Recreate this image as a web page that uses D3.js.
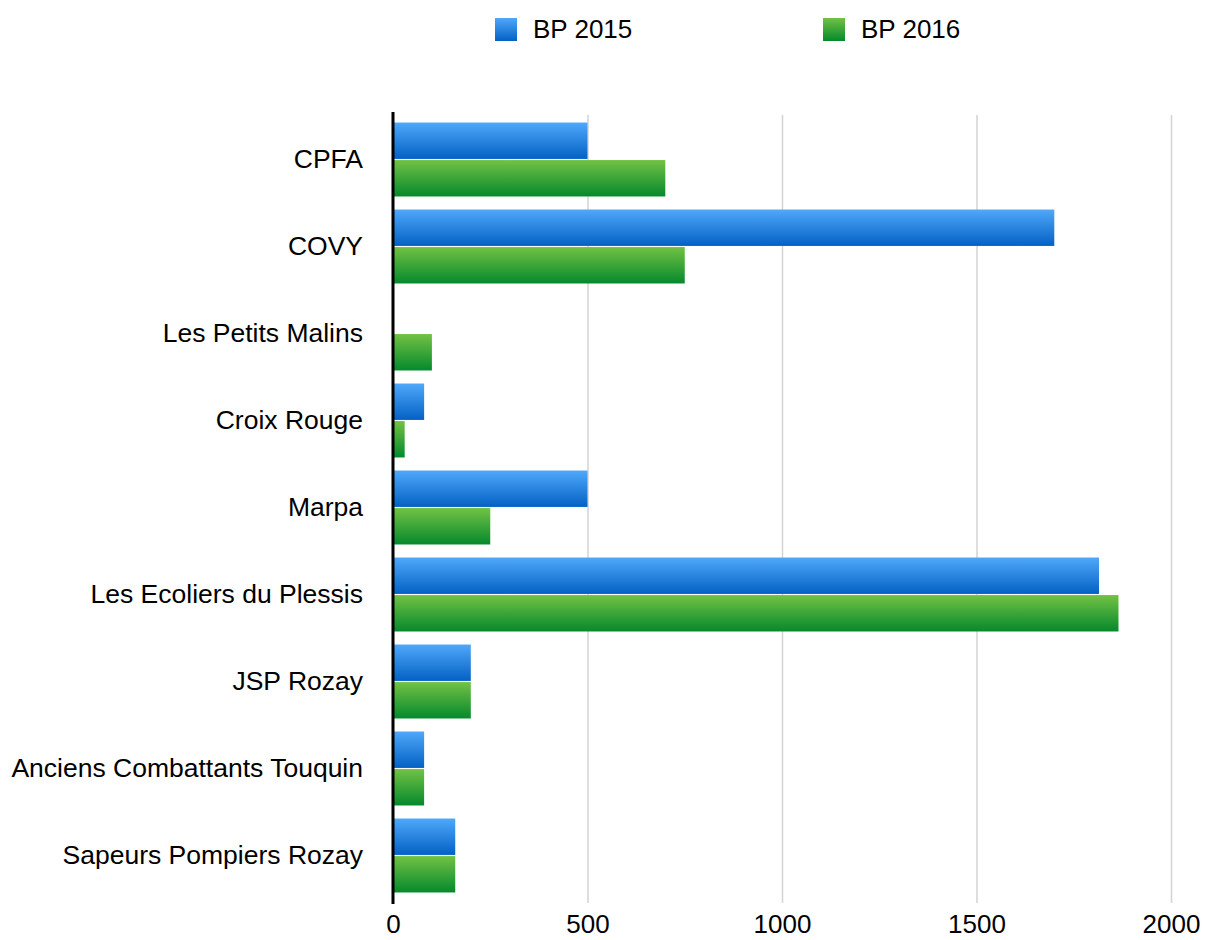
<!DOCTYPE html>
<html>
<head>
<meta charset="utf-8">
<script src="https://cdn.jsdelivr.net/npm/d3@7"></script>
<style>
  body { margin: 0; background: #fff; }
  svg text { font-family: "Liberation Sans", Arial, Helvetica, sans-serif; fill: #000; }
</style>
</head>
<body>
<svg id="chart" width="1205" height="940"></svg>
<script>
var categories = ["CPFA", "COVY", "Les Petits Malins", "Croix Rouge", "Marpa",
    "Les Ecoliers du Plessis", "JSP Rozay", "Anciens Combattants Touquin", "Sapeurs Pompiers Rozay"];
var bp2015 = [500, 1700, 0, 80, 500, 1815, 200, 80, 160];
var bp2016 = [700, 750, 100, 30, 250, 1865, 200, 80, 160];
var seriesNames = ["BP 2015", "BP 2016"];
var xTicks = [0, 500, 1000, 1500, 2000];

var gradColors = {
    "BP 2015": ["#4fa8fa", "#0461c4"],
    "BP 2016": ["#72c244", "#05892c"]
};

var svg = d3.select("#chart");

var defs = svg.append("defs");
seriesNames.forEach(function(name, i) {
    var grad = defs.append("linearGradient")
        .attr("id", "grad" + i)
        .attr("x1", 0).attr("y1", 0).attr("x2", 0).attr("y2", 1);
    grad.append("stop").attr("offset", "0%").attr("stop-color", gradColors[name][0]);
    grad.append("stop").attr("offset", "100%").attr("stop-color", gradColors[name][1]);
});

var x = d3.scaleLinear().domain([0, 2000]).range([393, 1171]);

var y = d3.scaleBand()
    .domain(categories)
    .range([116, 899])
    .paddingInner(0.15)
    .paddingOuter(0.075);

var ySub = d3.scaleBand()
    .domain(seriesNames)
    .range([0, y.bandwidth()])
    .paddingInner(0.03);

var rows = categories.map(function(c, i) {
    return { cat: c, values: [
        { name: "BP 2015", value: bp2015[i] },
        { name: "BP 2016", value: bp2016[i] }
    ]};
});

// gridlines
var grid = svg.append("g")
    .attr("transform", "translate(0,903)")
    .call(d3.axisBottom(x).tickValues(xTicks.slice(1)).tickSize(-(903 - 115)).tickFormat(""));
grid.select(".domain").remove();
grid.selectAll("line").attr("stroke", "#d3d3d3").attr("stroke-width", 1.5);

// bars
var group = svg.selectAll(".cat")
    .data(rows)
    .enter().append("g")
      .attr("class", "cat")
      .attr("transform", function(d) { return "translate(0," + y(d.cat) + ")"; });

group.selectAll("rect")
    .data(function(d) { return d.values.filter(function(v) { return v.value > 0; }); })
    .enter().append("rect")
      .attr("x", x(0) + 1)
      .attr("y", function(d) { return ySub(d.name); })
      .attr("height", ySub.bandwidth())
      .attr("width", function(d) { return x(d.value) - x(0) - 1; })
      .attr("fill", function(d) { return "url(#grad" + seriesNames.indexOf(d.name) + ")"; });

// x tick labels
var xAxis = svg.append("g")
    .attr("transform", "translate(0,903)")
    .call(d3.axisBottom(x).tickValues(xTicks).tickSize(0).tickPadding(12).tickFormat(d3.format("d")));
xAxis.select(".domain").remove();
xAxis.selectAll("text").style("font-size", "26px").attr("fill", "#000");

// category labels
var yAxis = svg.append("g")
    .attr("transform", "translate(393,0)")
    .call(d3.axisLeft(y).tickSize(0).tickPadding(30));
yAxis.select(".domain").remove();
yAxis.selectAll("text").style("font-size", "26.5px").attr("fill", "#000");

// vertical axis line
svg.append("line")
    .attr("x1", x(0)).attr("x2", x(0))
    .attr("y1", 112).attr("y2", 904)
    .attr("stroke", "#000").attr("stroke-width", 3);

// legend
var legendX = [495, 823];
var legend = svg.selectAll(".legend")
    .data(seriesNames)
    .enter().append("g")
      .attr("class", "legend")
      .attr("transform", function(d, i) { return "translate(" + legendX[i] + ",18)"; });

legend.append("rect")
    .attr("width", 22).attr("height", 23)
    .attr("fill", function(d, i) { return "url(#grad" + i + ")"; });

legend.append("text")
    .attr("x", 38).attr("y", 20)
    .style("font-size", "26px")
    .text(function(d) { return d; });
</script>
</body>
</html>
